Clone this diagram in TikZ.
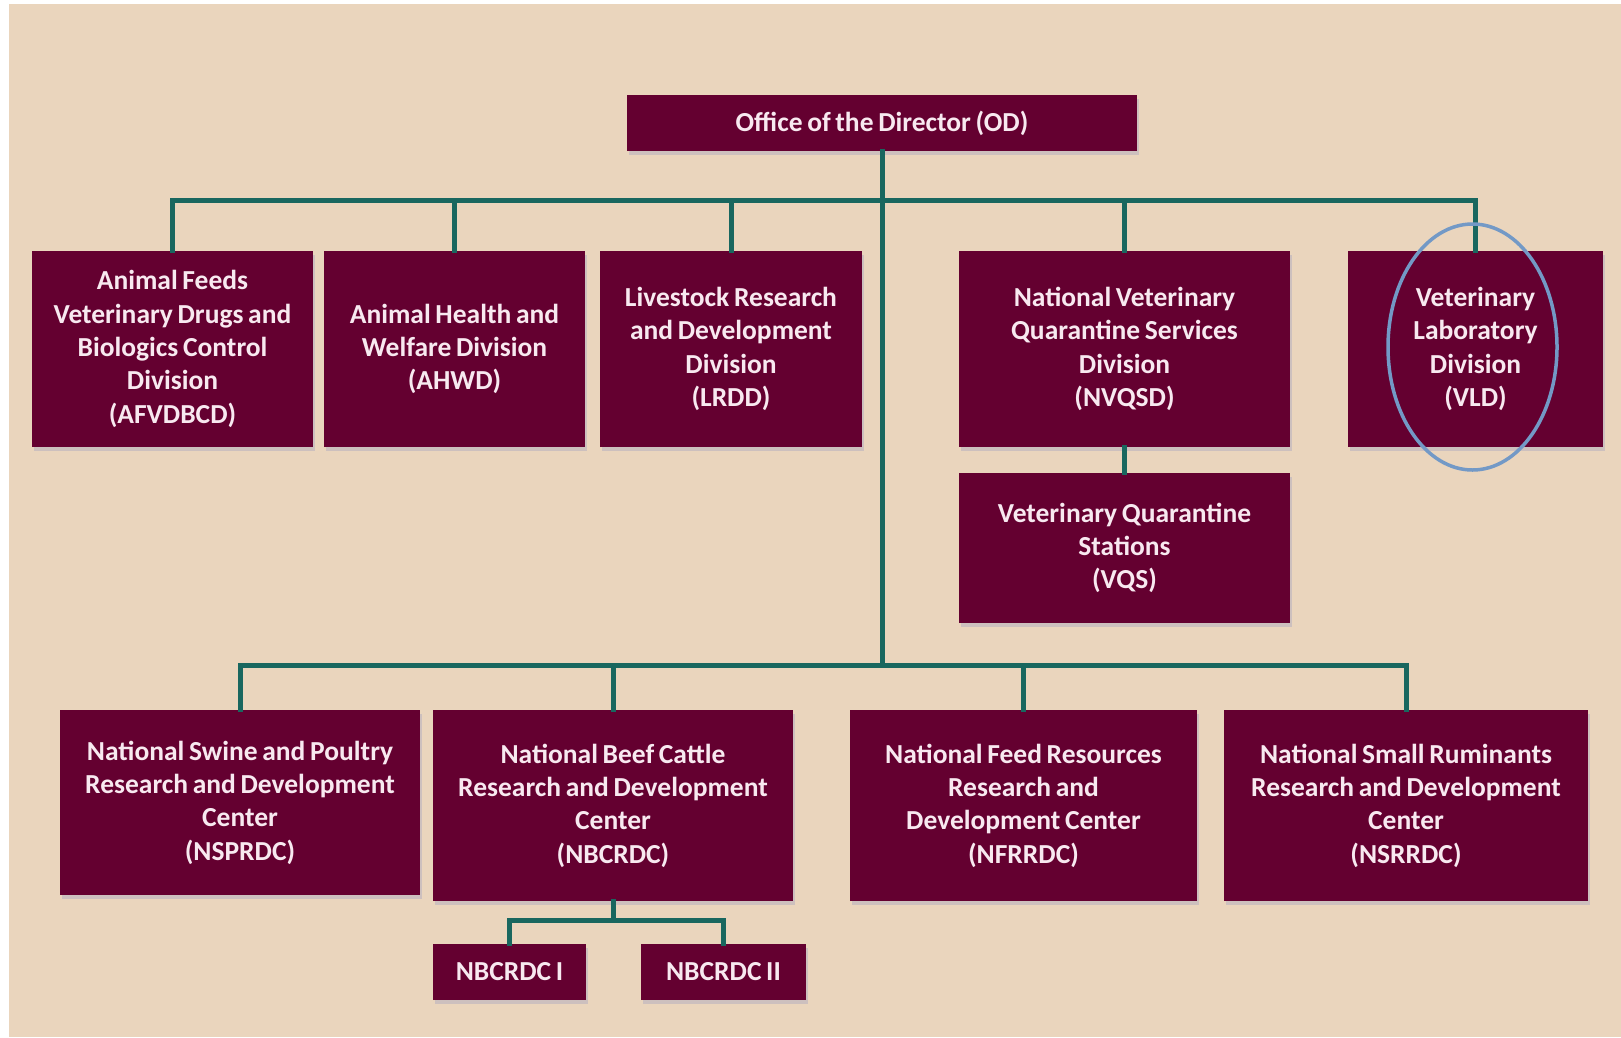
\documentclass[tikz,border=0pt]{standalone}
\usepackage{fontspec}
\setmainfont{Carlito}
\usetikzlibrary{shadows,shapes.geometric}
\definecolor{bgbeige}{HTML}{EAD5BD}
\definecolor{boxred}{HTML}{640030}
\definecolor{txtpink}{HTML}{F8E9F0}
\definecolor{linkteal}{HTML}{19675F}
\definecolor{ringblue}{HTML}{7399C6}
\newcommand{\orgboxfont}{\bfseries\fontsize{27.5}{33.4}\selectfont\spaceskip=0.17em\relax}
\begin{document}
\begin{tikzpicture}[x=1pt,y=-1pt,
  orgbox/.style={draw=none, fill=boxred, text=txtpink, align=center,
    font=\orgboxfont, inner sep=0pt,
    drop shadow={opacity=0.35, fill=black!60!blue!40, shadow xshift=2pt, shadow yshift=-4pt}},
  link/.style={draw=linkteal, line width=5pt, line cap=rect}]
\fill[white] (0,0) rectangle (1621,1037);
\fill[bgbeige] (9,4) rectangle (1621,1037);
\useasboundingbox (0,0) rectangle (1621,1037);

\node[orgbox, minimum width=510pt, minimum height=56pt] (od) at (882,123) {Office of the Director (OD)};

\node[orgbox, minimum width=281pt, minimum height=196pt] (afv) at (172.5,349) {Animal Feeds\\Veterinary Drugs and\\Biologics Control\\Division\\(AFVDBCD)};
\node[orgbox, minimum width=261pt, minimum height=196pt] (ahwd) at (454.5,349) {Animal Health and\\Welfare Division\\(AHWD)};
\node[orgbox, minimum width=262pt, minimum height=196pt] (lrdd) at (731,349) {Livestock Research\\and Development\\Division\\(LRDD)};
\node[orgbox, minimum width=331pt, minimum height=196pt] (nvqsd) at (1124.5,349) {National Veterinary\\Quarantine Services\\Division\\(NVQSD)};
\node[orgbox, minimum width=255pt, minimum height=196pt] (vld) at (1475.5,349) {Veterinary\\Laboratory\\Division\\(VLD)};
\node[orgbox, minimum width=331pt, minimum height=150pt] (vqs) at (1124.5,548) {Veterinary Quarantine\\Stations\\(VQS)};

\node[orgbox, minimum width=360pt, minimum height=185pt] (nsp) at (240,802.5) {National Swine and Poultry\\Research and Development\\Center\\(NSPRDC)};
\node[orgbox, minimum width=360pt, minimum height=191pt] (nbc) at (613,805.5) {National Beef Cattle\\Research and Development\\Center\\(NBCRDC)};
\node[orgbox, minimum width=347pt, minimum height=191pt] (nfr) at (1023.5,805.5) {National Feed Resources\\Research and\\Development Center\\(NFRRDC)};
\node[orgbox, minimum width=364pt, minimum height=191pt] (nsr) at (1406,805.5) {National Small Ruminants\\Research and Development\\Center\\(NSRRDC)};

\node[orgbox, minimum width=153pt, minimum height=56pt] (nb1) at (509.5,972) {NBCRDC I};
\node[orgbox, minimum width=165pt, minimum height=56pt] (nb2) at (723.5,972) {NBCRDC II};

% connectors
\coordinate (topbus) at (882,200);
\coordinate (botbus) at (882,665);
\coordinate (subbus) at (613,920);
\draw[link] (od.south) -- (botbus);
\draw[link] (afv.north) |- (topbus);
\draw[link] (ahwd.north) |- (topbus);
\draw[link] (lrdd.north) |- (topbus);
\draw[link] (nvqsd.north) |- (topbus);
\draw[link] (vld.north) |- (topbus);
\draw[link] (nvqsd.south) -- (vqs.north);
\draw[link] (nsp.north) |- (botbus);
\draw[link] (nbc.north) |- (botbus);
\draw[link] (nfr.north) |- (botbus);
\draw[link] (nsr.north) |- (botbus);
\draw[link] (nbc.south) -- (subbus);
\draw[link] (nb1.north) |- (subbus);
\draw[link] (nb2.north) |- (subbus);

\node[draw=ringblue, line width=3.5pt, ellipse, minimum width=169pt, minimum height=246pt, inner sep=0pt] (ring) at (1472.5,347) {};
\end{tikzpicture}
\end{document}
